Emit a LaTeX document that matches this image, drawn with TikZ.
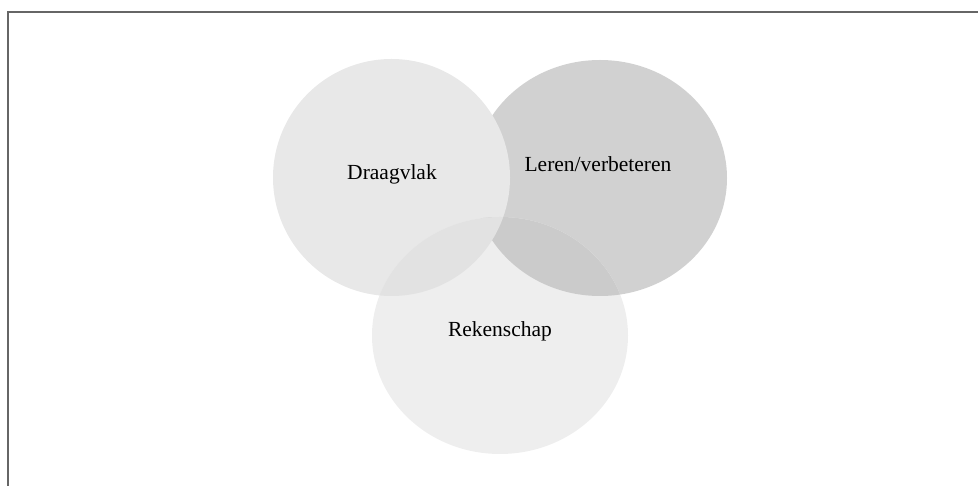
\documentclass[tikz,border=0pt]{standalone}
\usepackage{fontspec}
\setmainfont{Liberation Serif}
\definecolor{cDraag}{HTML}{E8E8E8}
\definecolor{cLeren}{HTML}{D1D1D1}
\definecolor{cRek}{HTML}{EEEEEE}
\definecolor{cRekDraag}{HTML}{E2E2E2}
\definecolor{cRekLeren}{HTML}{CBCBCB}
\definecolor{cFrame}{HTML}{666666}
\begin{document}
\begin{tikzpicture}[x=1pt,y=-1pt,
  lbl/.style={font=\fontsize{21.5}{26}\selectfont, text=black, anchor=base, inner sep=0pt},
  frameline/.style={draw=cFrame, line width=2pt}]
\useasboundingbox (0,0) rectangle (978,486);
\coordinate (cD) at (391.5,177.5);
\coordinate (cL) at (600,178);
\coordinate (cR) at (500,335.5);
% circles
\fill[cLeren] (cL) ellipse [x radius=127, y radius=118];
\fill[cDraag] (cD) ellipse [x radius=118.5, y radius=118.5];
\fill[cRek] (cR) ellipse [x radius=128, y radius=118.5];
\begin{scope}
  \clip (cR) ellipse [x radius=128, y radius=118.5];
  \fill[cRekLeren] (cL) ellipse [x radius=127, y radius=118];
  \fill[cRekDraag] (cD) ellipse [x radius=118.5, y radius=118.5];
\end{scope}
% labels
\node[lbl] (tD) at (392,180) {Draagvlak};
\node[lbl] (tL) at (598,172) {Leren/verbeteren};
\node[lbl] (tR) at (500,337) {Rekenschap};
% frame
\coordinate (fTL) at (8,12);
\coordinate (fTR) at (978,12);
\coordinate (fBL) at (8,486);
\draw[frameline] (fTR) -- (fTL) -- (fBL);
\end{tikzpicture}
\end{document}
